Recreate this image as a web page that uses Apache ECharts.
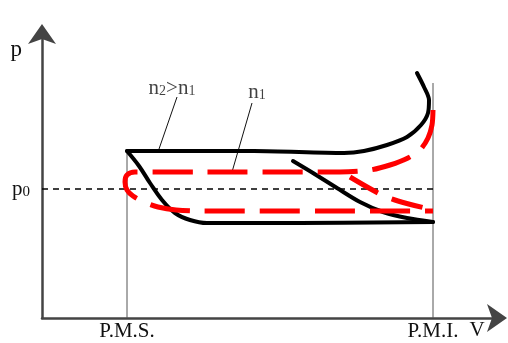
<!DOCTYPE html>
<html>
<head>
<meta charset="utf-8">
<script src="https://cdn.jsdelivr.net/npm/echarts@6/dist/echarts.min.js"></script>
<style>html,body{margin:0;padding:0;background:#fff}#c{width:508px;height:343px}</style>
</head>
<body>
<div id="c"></div>
<script>
// Data (V and p in arbitrary units from the origin)
const V_PMS = 85, V_PMI = 391, P0 = 129;
const xTickValues = [V_PMS, V_PMI];
const xTickLabels = ['P.M.S.', 'P.M.I.'];

const blackTopV = [85, 212, 302, 322, 345, 365, 379, 386, 387, 382, 375];
const blackTopP = [167, 167, 165, 167, 173, 181, 193, 205, 218, 231, 245];

const blackLowV = [85, 97, 108, 120, 133, 148, 165, 258, 391];
const blackLowP = [167, 152, 135, 118, 105, 98, 95, 95, 96];

const blackDiagV = [251, 271, 295, 318, 341, 365, 391];
const blackDiagP = [157, 145, 130, 116, 106, 100, 96];

const redLoopV = [391, 390, 386, 378, 366, 348, 328, 298, 158, 93, 85, 83, 85, 91, 102, 116, 134, 158, 391];
const redLoopP = [208, 193, 180, 168, 160, 153, 148, 146, 146, 146, 143, 136, 128, 122, 116, 111, 108, 107, 107];

const redDiagV = [308, 338, 356, 391];
const redDiagP = [141, 124, 117, 108];

const leader2V = [135, 117], leader2P = [221, 169];
const leader1V = [210, 190], leader1P = [215, 146];
const labelN2 = [130, 230], labelN1 = [215, 226];

const pmsLineP = [0, 168];
const pmiLineP = [0, 235];

const zip = (a, b) => a.map((v, i) => [v, b[i]]);
const FONT = 'Liberation Serif';
const TXT = '#111';

const chart = echarts.init(document.getElementById('c'), null, {renderer: 'canvas'});
chart.setOption({
  animation: false,
  backgroundColor: '#fff',
  grid: {left: 42, right: 11, top: 34, bottom: 25},
  xAxis: {
    type: 'value', min: 0, max: 455,
    name: 'V', nameLocation: 'end', nameGap: -20,
    nameTextStyle: {fontFamily: FONT, fontSize: 21, color: TXT, align: 'center', verticalAlign: 'top', padding: [2, 0, 0, 0]},
    axisLine: {show: true, lineStyle: {color: '#444', width: 2.5}, symbol: ['none', 'arrow'], symbolSize: [21, 20], symbolOffset: [0, 10]},
    axisTick: {show: false},
    splitLine: {show: false},
    axisLabel: {
      show: true, customValues: xTickValues, margin: 3,
      fontFamily: FONT, fontSize: 21, color: TXT,
      formatter: v => xTickLabels[xTickValues.indexOf(v)] || ''
    }
  },
  yAxis: {
    type: 'value', min: 0, max: 284,
    name: 'p', nameLocation: 'end', nameGap: -16,
    nameTextStyle: {fontFamily: FONT, fontSize: 23, color: TXT, align: 'right', verticalAlign: 'middle', padding: [0, 20, 0, 0]},
    axisLine: {show: true, lineStyle: {color: '#444', width: 2.5}, symbol: ['none', 'arrow'], symbolSize: [21, 20], symbolOffset: [0, 10]},
    axisTick: {show: false},
    splitLine: {show: false},
    axisLabel: {
      show: true, customValues: [P0], margin: 12,
      formatter: () => '{a|p}{b|0}',
      rich: {
        a: {fontFamily: FONT, fontSize: 21, color: TXT},
        b: {fontFamily: FONT, fontSize: 15, color: TXT, padding: [6, 0, 0, 0]}
      }
    }
  },
  series: [
    {type: 'line', data: [[V_PMS, pmsLineP[0]], [V_PMS, pmsLineP[1]]], symbol: 'none', lineStyle: {color: '#555', width: 1}, z: 1},
    {type: 'line', data: [[V_PMI, pmiLineP[0]], [V_PMI, pmiLineP[1]]], symbol: 'none', lineStyle: {color: '#555', width: 1}, z: 1},
    {type: 'line', data: [[0, P0], [V_PMI, P0]], symbol: 'none', lineStyle: {color: '#000', width: 1.5, type: [6, 5]}, z: 2},
    {type: 'line', data: zip(leader2V, leader2P), symbol: 'none', lineStyle: {color: '#111', width: 1}, z: 2},
    {type: 'line', data: zip(leader1V, leader1P), symbol: 'none', lineStyle: {color: '#111', width: 1}, z: 2},
    {type: 'line', data: zip(blackTopV, blackTopP), symbol: 'none', smooth: 0.3, lineStyle: {color: '#000', width: 4, cap: 'round'}, z: 3},
    {type: 'line', data: zip(blackLowV, blackLowP), symbol: 'none', smooth: 0.4, lineStyle: {color: '#000', width: 4, cap: 'round'}, z: 3},
    {type: 'line', data: zip(blackDiagV, blackDiagP), symbol: 'none', smooth: 0.3, lineStyle: {color: '#000', width: 4, cap: 'round'}, z: 3},
    {type: 'line', data: zip(redLoopV, redLoopP), symbol: 'none', smooth: 0.3, lineStyle: {color: '#f00', width: 5, type: [40, 15]}, z: 4},
    {type: 'line', data: zip(redDiagV, redDiagP), symbol: 'none', smooth: 0.3, lineStyle: {color: '#f00', width: 5, type: [32, 15]}, z: 4},
    {
      type: 'scatter', symbolSize: 0, z: 5, silent: true,
      data: [labelN2, labelN1],
      label: {
        show: true, position: 'inside', color: TXT,
        formatter: p => p.dataIndex === 0 ? '{n|n}{s|2}{n|>n}{s|1}' : '{n|n}{s|1}',
        rich: {
          n: {fontFamily: FONT, fontSize: 21, color: TXT},
          s: {fontFamily: FONT, fontSize: 14, color: TXT, padding: [7, 0, 0, 0]}
        }
      }
    }
  ]
});
</script>
</body>
</html>
